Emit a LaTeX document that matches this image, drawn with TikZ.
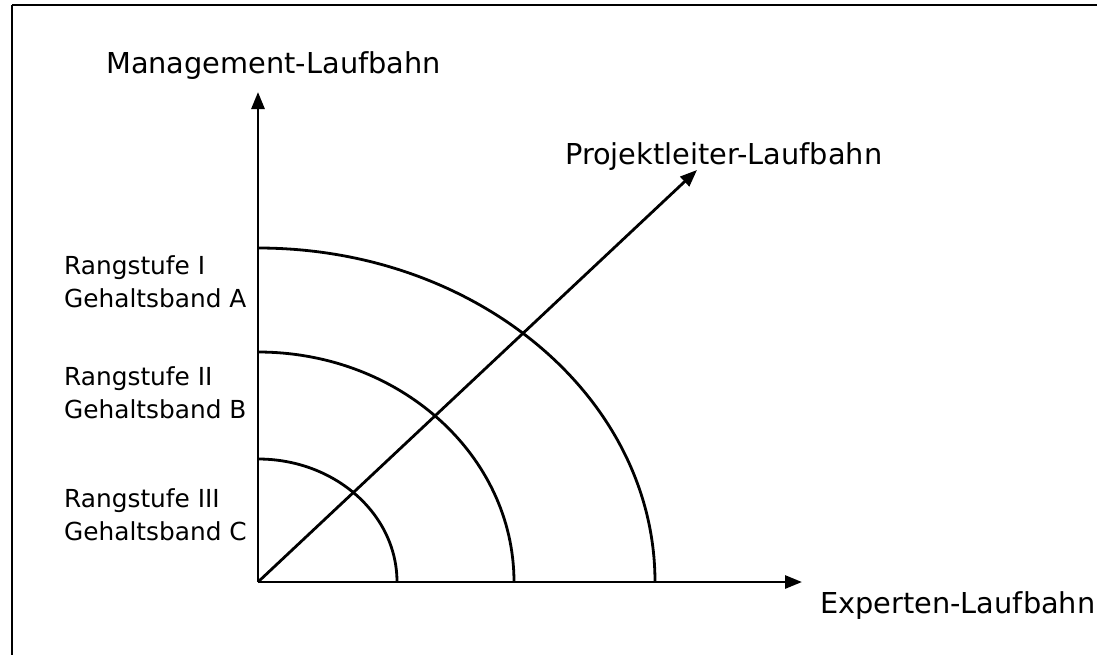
\documentclass[tikz,border=0pt]{standalone}
\usepackage{fontspec}
\setmainfont{DejaVu Sans}
\usetikzlibrary{arrows.meta}
\begin{document}
\begin{tikzpicture}[x=1pt,y=-1pt,
  axis/.style={line width=2.8pt,-{Triangle[length=17pt,width=13pt]}},
  band/.style={line width=2.8pt},
  lbl/.style={inner sep=0pt,anchor=base west,font=\fontsize{28.8}{34}\selectfont},
  rank/.style={inner sep=0pt,anchor=base west,align=left,font=\fontsize{24.8}{33}\selectfont}]
\useasboundingbox (0,0) rectangle (1097,654);
\fill[white] (0,0) rectangle (1097,654);
\draw[line width=2.4pt] (12,5) -- (1120,5);
\draw[line width=2.4pt] (12,5) -- (12,670);
% axes
\coordinate (O) at (258,582);
\coordinate (Mtip) at (258,92);
\coordinate (Etip) at (802,582);
\coordinate (Ptip) at (697,170);
% arcs
\draw[band] (655,582) arc[start angle=0,end angle=90,x radius=397pt,y radius=334pt];
\draw[band] (514,582) arc[start angle=0,end angle=90,x radius=256pt,y radius=230pt];
\draw[band] (397,582) arc[start angle=0,end angle=90,x radius=139pt,y radius=123pt];
\draw[axis] (O) -- (Mtip);
\draw[axis] (O) -- (Etip);
\draw[axis] (O) -- (Ptip);
% labels
\node[lbl] (mgmt) at (106,73) {Management-Laufbahn};
\node[lbl] (proj) at (565,164) {Projektleiter-Laufbahn};
\node[lbl] (exp) at (820,613) {Experten-Laufbahn};
\node[rank] (r1) at (64,307) {Rangstufe I\\Gehaltsband A};
\node[rank] (r2) at (64,418) {Rangstufe II\\Gehaltsband B};
\node[rank] (r3) at (64,540) {Rangstufe III\\Gehaltsband C};
\end{tikzpicture}
\end{document}
